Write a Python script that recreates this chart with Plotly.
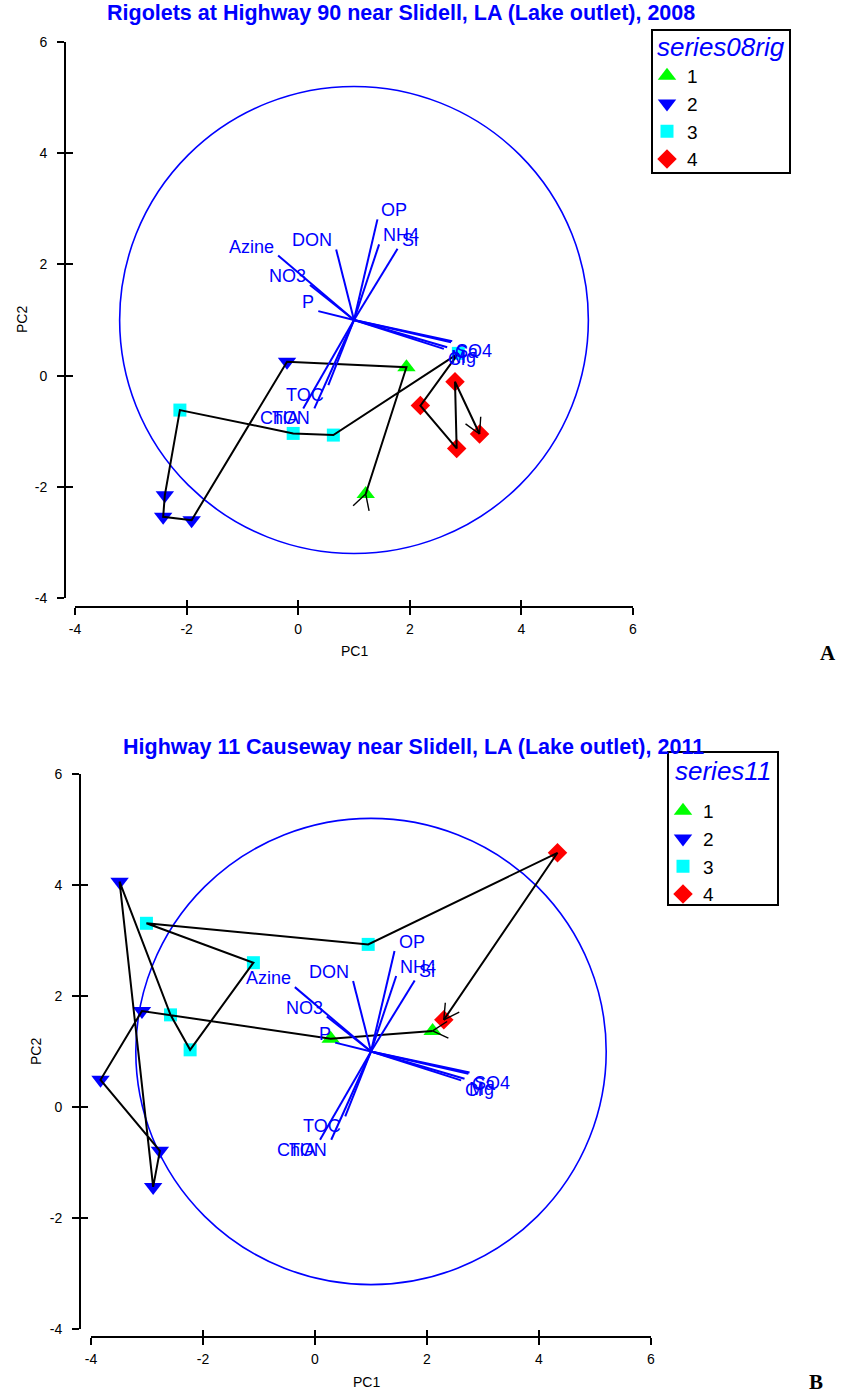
import math
import plotly.graph_objects as go

# ---------------- Data ----------------
series_labels = ["1", "2", "3", "4"]

# Panel A (Rigolets 2008), samples in sampling order
a_series = [1, 1, 2, 2, 2, 2, 3, 3, 3, 3, 4, 4, 4, 4]
a_pc1 = [1.21, 1.94, -0.20, -1.91, -2.42, -2.39, -2.12, -0.09, 0.63, 2.87, 2.19, 2.84, 2.81, 3.25]
a_pc2 = [-2.13, 0.15, 0.25, -2.60, -2.54, -2.15, -0.62, -1.04, -1.07, 0.40, -0.54, -1.31, -0.11, -1.05]

# Panel B (Highway 11 2011), samples in sampling order
b_series = [1, 1, 2, 2, 2, 2, 2, 3, 3, 3, 3, 3, 4, 4]
b_pc1 = [2.10, 0.28, -3.09, -3.83, -2.77, -2.89, -3.49, -2.58, -2.23, -1.10, -3.01, 0.95, 4.33, 2.30]
b_pc2 = [1.37, 1.23, 1.73, 0.49, -0.79, -1.44, 4.06, 1.66, 1.03, 2.60, 3.31, 2.93, 4.58, 1.57]

# Variable loadings (vectors drawn from the biplot origin)
var_names = ["OP", "NH4", "Si", "DON", "Azine", "NO3", "P", "SO4", "Ca", "Mg", "Cl", "TOC", "TON", "ChlA"]
load_pc1 = [0.42, 0.45, 0.78, -0.32, -1.36, -0.79, -0.64, 1.76, 1.74, 1.67, 1.61, -0.46, -0.71, -0.91]
load_pc2 = [1.81, 1.36, 1.28, 1.27, 1.16, 0.63, 0.16, -0.38, -0.40, -0.49, -0.52, -1.17, -1.59, -1.59]
vec_origin = (1.0, 1.0)
circle_radius = 4.2

tick_values = [-4, -2, 0, 2, 4, 6]
tick_text = ["-4", "-2", "0", "2", "4", "6"]

titles = ["Rigolets at Highway 90 near Slidell, LA (Lake outlet), 2008",
          "Highway 11 Causeway near Slidell, LA (Lake outlet), 2011"]
legend_titles = ["series08rig", "series11"]
panel_letters = ["A", "B"]

# ---------------- Styles ----------------
W, H = 841, 1395
FONT = "Liberation Sans, Arial, sans-serif"
colors = {1: "#00FF00", 2: "#0000FF", 3: "#00FFFF", 4: "#FF0000"}
symbols = {1: "triangle-up", 2: "triangle-down", 3: "square", 4: "diamond"}
sizes = {1: 16, 2: 16, 3: 13, 4: 15}


def px_x(p):
    return p / W


def px_y(p):
    return (H - p) / H


panels = [
    dict(xd=[px_x(75), px_x(633)], yd=[px_y(598), px_y(42)], ypos=px_x(65), xpos=px_y(607),
         pc1=a_pc1, pc2=a_pc2, ser=a_series, legend="legend",
         box=(652, 30, 790, 173), box_title_y=47, items_top=57, items_left=647,
         title_x=px_x(401), title_y=px_y(13),
         pc1_lab=(354, 651), pc2_lab=(22, 320), letter=(828, 653)),
    dict(xd=[px_x(91), px_x(651)], yd=[px_y(1329), px_y(774)], ypos=px_x(80), xpos=px_y(1337),
         pc1=b_pc1, pc2=b_pc2, ser=b_series, legend="legend2",
         box=(668, 752, 778, 905), box_title_y=771, items_top=792, items_left=663,
         title_x=px_x(413), title_y=px_y(747),
         pc1_lab=(366, 1382), pc2_lab=(36, 1052), letter=(816, 1382)),
]

fig = go.Figure()
layout = dict(width=W, height=H, margin=dict(l=0, r=0, t=0, b=0, autoexpand=False),
              plot_bgcolor="white", paper_bgcolor="white", showlegend=True)
annotations = []
shapes = []


def wing_pts(tip, away, L=0.31, ang=math.radians(29)):
    """Open arrowhead at `tip`; the two wings trail along direction `away`."""
    dx, dy = away
    n = math.hypot(dx, dy)
    dx, dy = dx / n, dy / n
    out_x, out_y = [], []
    for s in (1, -1):
        c, si = math.cos(s * ang), math.sin(s * ang)
        wx, wy = dx * c - dy * si, dx * si + dy * c
        out_x += [tip[0] + L * wx, tip[0], None]
        out_y += [tip[1] + L * wy, tip[1], None]
    return out_x, out_y


for i, P in enumerate(panels):
    xa = "x" if i == 0 else "x2"
    ya = "y" if i == 0 else "y2"
    xo = "x3" if i == 0 else "x4"
    yo = "y3" if i == 0 else "y4"
    xkey = "xaxis" if i == 0 else "xaxis2"
    ykey = "yaxis" if i == 0 else "yaxis2"
    xokey = "xaxis3" if i == 0 else "xaxis4"
    yokey = "yaxis3" if i == 0 else "yaxis4"

    common = dict(range=[-4, 6], tickvals=tick_values, ticktext=tick_text, showgrid=False,
                  zeroline=False, tickcolor="black", tickwidth=2, ticklen=7, automargin=False)
    layout[xkey] = dict(common, domain=P["xd"], anchor="free", position=P["xpos"],
                        ticks="outside", showline=True, linecolor="black", linewidth=2,
                        ticklabelstandoff=2,
                        tickfont=dict(family=FONT, size=14, color="black"))
    layout[ykey] = dict(common, domain=P["yd"], anchor="free", position=P["ypos"],
                        ticks="outside", showline=True, linecolor="black", linewidth=2,
                        ticklabelstandoff=7,
                        tickfont=dict(family=FONT, size=14, color="black"))
    layout[xokey] = dict(common, overlaying=xa, anchor="free", position=P["xpos"],
                         ticks="inside", showticklabels=False, showline=False)
    layout[yokey] = dict(common, overlaying=ya, anchor="free", position=P["ypos"],
                         ticks="inside", showticklabels=False, showline=False)
    fig.add_trace(go.Scatter(x=[None], y=[None], xaxis=xo, yaxis=ya, showlegend=False, hoverinfo="skip"))
    fig.add_trace(go.Scatter(x=[None], y=[None], xaxis=xa, yaxis=yo, showlegend=False, hoverinfo="skip"))

    # correlation circle
    shapes.append(dict(type="circle", xref=xa, yref=ya, layer="below",
                       x0=vec_origin[0] - circle_radius, x1=vec_origin[0] + circle_radius,
                       y0=vec_origin[1] - circle_radius, y1=vec_origin[1] + circle_radius,
                       line=dict(color="#0000FF", width=1.6)))

    # markers by series
    for s in [1, 2, 3, 4]:
        xs = [x for x, g in zip(P["pc1"], P["ser"]) if g == s]
        ys = [y for y, g in zip(P["pc2"], P["ser"]) if g == s]
        fig.add_trace(go.Scatter(x=xs, y=ys, mode="markers", name=series_labels[s - 1],
                                 xaxis=xa, yaxis=ya, legend=P["legend"],
                                 marker=dict(symbol=symbols[s], color=colors[s], size=sizes[s],
                                             line=dict(width=0))))

    # sampling trajectory with direction arrowheads at start and end
    fig.add_trace(go.Scatter(x=P["pc1"], y=P["pc2"], mode="lines", xaxis=xa, yaxis=ya,
                             line=dict(color="black", width=2), showlegend=False, hoverinfo="skip"))
    pts = list(zip(P["pc1"], P["pc2"]))
    p0, p1, pm, pn = pts[0], pts[1], pts[-2], pts[-1]
    wx1, wy1 = wing_pts(p0, (p0[0] - p1[0], p0[1] - p1[1]))
    wx2, wy2 = wing_pts(pn, (pm[0] - pn[0], pm[1] - pn[1]))
    fig.add_trace(go.Scatter(x=wx1 + wx2, y=wy1 + wy2, mode="lines", xaxis=xa, yaxis=ya,
                             line=dict(color="black", width=1.4), showlegend=False, hoverinfo="skip"))

    # loading vectors
    vx, vy = [], []
    for lx, ly in zip(load_pc1, load_pc2):
        vx += [vec_origin[0], vec_origin[0] + lx, None]
        vy += [vec_origin[1], vec_origin[1] + ly, None]
    fig.add_trace(go.Scatter(x=vx, y=vy, mode="lines", xaxis=xa, yaxis=ya,
                             line=dict(color="#0000FF", width=2), showlegend=False, hoverinfo="skip"))
    for name, lx, ly in zip(var_names, load_pc1, load_pc2):
        annotations.append(dict(
            x=vec_origin[0] + lx, y=vec_origin[1] + ly, xref=xa, yref=ya, text=name,
            showarrow=False, xanchor="left" if lx > 0 else "right",
            yanchor="bottom" if ly > 0 else "top",
            xshift=2 if lx > 0 else -2, yshift=-3 if ly > 0 else 2,
            font=dict(family=FONT, size=18, color="#0000FF")))

    # titles and axis titles
    annotations.append(dict(x=P["title_x"], y=P["title_y"], xref="paper", yref="paper",
                            text="<b>" + titles[i] + "</b>", showarrow=False,
                            xanchor="center", yanchor="middle",
                            font=dict(family=FONT, size=21.5, color="#0000FF")))
    annotations.append(dict(x=px_x(P["pc1_lab"][0]), y=px_y(P["pc1_lab"][1]), xref="paper", yref="paper",
                            text="PC1", showarrow=False, xanchor="center", yanchor="middle",
                            font=dict(family=FONT, size=14, color="black")))
    annotations.append(dict(x=px_x(P["pc2_lab"][0]), y=px_y(P["pc2_lab"][1]), xref="paper", yref="paper",
                            text="PC2", showarrow=False, xanchor="center", yanchor="middle",
                            textangle=-90, font=dict(family=FONT, size=14, color="black")))
    annotations.append(dict(x=px_x(P["letter"][0]), y=px_y(P["letter"][1]), xref="paper", yref="paper",
                            text="<b>" + panel_letters[i] + "</b>", showarrow=False,
                            xanchor="center", yanchor="middle",
                            font=dict(family="Liberation Serif, Times New Roman, serif", size=21,
                                      color="black")))

    # legend frame + title, with the plotly legend items placed inside it
    bx0, by0, bx1, by1 = P["box"]
    shapes.append(dict(type="rect", xref="paper", yref="paper", layer="above",
                       x0=px_x(bx0), x1=px_x(bx1), y0=px_y(by1), y1=px_y(by0),
                       line=dict(color="black", width=2), fillcolor="rgba(0,0,0,0)"))
    annotations.append(dict(x=px_x((bx0 + bx1) / 2), y=px_y(P["box_title_y"]), xref="paper", yref="paper",
                            text=legend_titles[i], showarrow=False, xanchor="center", yanchor="middle",
                            font=dict(family=FONT, size=26, color="#0000FF", style="italic")))
    layout[P["legend"]] = dict(
        x=px_x(P["items_left"]), y=px_y(P["items_top"]), xanchor="left", yanchor="top",
        bgcolor="rgba(0,0,0,0)", borderwidth=0,
        font=dict(family=FONT, size=19, color="black"), itemwidth=30, tracegroupgap=0)

layout["annotations"] = annotations
layout["shapes"] = shapes
fig.update_layout(**layout)
fig.write_html("out.html")
